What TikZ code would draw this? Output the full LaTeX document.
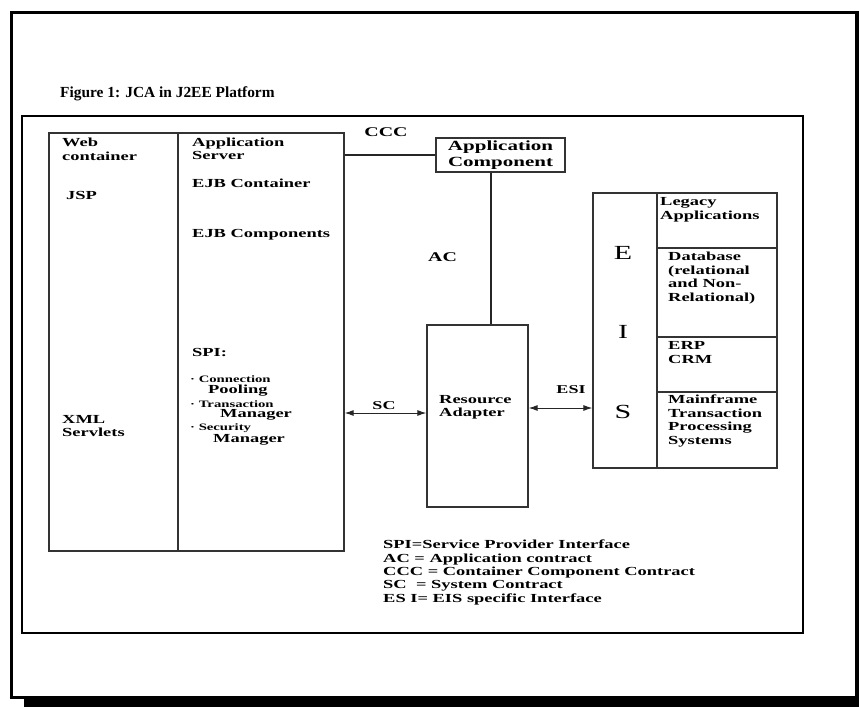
\documentclass[tikz,border=0pt]{standalone}
\usepackage{fontspec}
\setmainfont{Liberation Serif}[FakeStretch=1.5]
\newfontfamily\titlefont{Liberation Serif}
\usetikzlibrary{arrows.meta}
\newcommand{\fs}[2]{\fontsize{#1}{#2}\selectfont\bfseries}
\begin{document}
\begin{tikzpicture}[x=1pt,y=-1pt,
  lbl/.style={anchor=west, inner sep=0pt, align=left, font=\fs{12.3}{13.5}},
  small/.style={anchor=west, inner sep=0pt, font=\fs{9.8}{10}},
  box/.style={draw=black!80, line width=1.3pt, inner sep=0pt, rectangle},
  conn/.style={draw=black!85, line width=1.2pt},
  arr/.style={{Latex[length=9pt,width=6pt]}-{Latex[length=9pt,width=6pt]}, line width=1pt, draw=black!85},
  letter/.style={inner sep=0pt, font=\fontsize{20}{20}\selectfont\mdseries}]
\useasboundingbox (0,0) rectangle (859,707);
\fill[white] (0,0) rectangle (859,707);
% outer frame and shadow
\draw[line width=3pt] (11.5,12.5) rectangle (856.5,697.5);
\fill (24,697) rectangle (859,707);
\fill (855,11) rectangle (859,707);
% inner frame
\draw[line width=1.3pt] (22,116) rectangle (803,633);
% title
\node[anchor=west, inner sep=0pt, font=\titlefont\fontsize{15.4}{16}\selectfont\bfseries] (title) at (60,94) {Figure 1: JCA in J2EE Platform};
% main boxes
\node[box, minimum width=129pt, minimum height=418pt] (web) at (113.5,342) {};
\node[box, minimum width=166pt, minimum height=418pt] (app) at (261,342) {};
\node[box, minimum width=129pt, minimum height=34pt, align=center, font=\fs{14}{16}] (appcomp) at (500.5,155) {Application\\Component};
\node[box, minimum width=101pt, minimum height=182pt] (ra) at (477.5,416) {};
\node[box, minimum width=184pt, minimum height=275pt] (eis) at (685,330.5) {};
\node[box, minimum width=64pt, minimum height=275pt] (eisl) at (625,330.5) {};
\node[box, minimum width=120pt, minimum height=55pt] (c1) at (717,220.5) {};
\node[box, minimum width=120pt, minimum height=89pt] (c2) at (717,292.5) {};
\node[box, minimum width=120pt, minimum height=55pt] (c3) at (717,364.5) {};
\node[box, minimum width=120pt, minimum height=76pt] (c4) at (717,430) {};
% web container texts
\node[lbl] (webt) at (62,149.5) {Web\\container};
\node[lbl] (jsp) at (66,195) {JSP};
\node[lbl] (xml) at (62,426) {XML\\Servlets};
% application server texts
\node[lbl] (appt) at (192,149) {Application\\Server};
\node[lbl] (ejbc) at (192,183) {EJB Container};
\node[lbl] (ejbp) at (192,235) {EJB Components};
\node[lbl] (spi) at (192,353) {SPI:};
\node[small] (conn) at (190,379) {· Connection};
\node[lbl] (pool) at (208,391) {Pooling};
\node[small] (trans) at (190,404) {· Transaction};
\node[lbl] (tman) at (220,415) {Manager};
\node[small] (sec) at (190,428) {· Security};
\node[lbl] (sman) at (213,440) {Manager};
% resource adapter text
\node[lbl] (rat) at (439,407.5) {Resource\\Adapter};
% EIS letters
\node[letter] (le) at (623,253) {E};
\node[letter] (li) at (623,332) {I};
\node[letter] (ls) at (623,412) {S};
% EIS cell texts
\node[lbl] (leg) at (660,210) {Legacy\\Applications};
\node[lbl] (db) at (668,278) {Database\\(relational\\and Non-\\Relational)};
\node[lbl] (erp) at (668,352.5) {ERP\\CRM};
\node[lbl] (mf) at (668,421) {Mainframe\\Transaction\\Processing\\Systems};
% connectors
\coordinate (acx) at (491,0);
\coordinate (scy) at (0,413);
\coordinate (esy) at (0,408);
\draw[conn] (appcomp.west) -- (appcomp.west -| app.east);
\draw[conn] (appcomp.south -| acx) -- (ra.north -| acx);
\draw[arr] (app.east |- scy) -- (ra.west |- scy);
\draw[arr] (ra.east |- esy) -- (eis.west |- esy);
% connector labels
\node[inner sep=0pt, font=\fs{13.3}{14}] (ccc) at (386,132) {CCC};
\node[anchor=west, inner sep=0pt, font=\fs{13.3}{14}] (ac) at (428,257) {AC};
\node[inner sep=0pt, font=\fs{12}{13}] (sc) at (384,406) {SC};
\node[inner sep=0pt, font=\fs{12}{13}] (esi) at (571,390) {ESI};
% legend
\node[anchor=west, inner sep=0pt, align=left, font=\fs{12.3}{13.3}] (legend) at (383,572.5) {SPI=Service Provider Interface\\AC = Application contract\\CCC = Container Component Contract\\SC\ \ = System Contract\\ES I= EIS specific Interface};
\end{tikzpicture}
\end{document}
